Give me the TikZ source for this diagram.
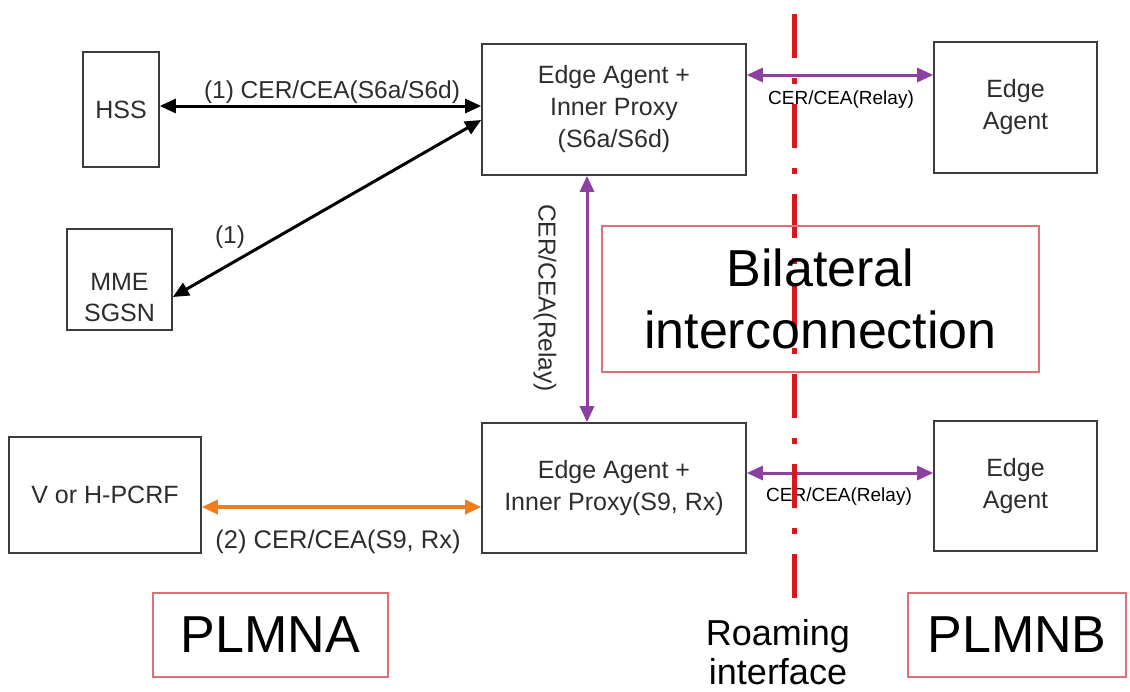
\documentclass[tikz,border=0pt]{standalone}
\usepackage{fontspec}
\setmainfont{Liberation Sans}
\usetikzlibrary{arrows.meta}
\definecolor{boxgray}{RGB}{60,60,60}
\definecolor{txtgray}{RGB}{45,45,45}
\definecolor{pinkred}{RGB}{222,112,118}
\definecolor{relaypurple}{RGB}{140,65,160}
\definecolor{pcrforange}{RGB}{240,125,30}
\definecolor{roamred}{RGB}{215,25,30}
\begin{document}
\begin{tikzpicture}[x=1pt,y=-1pt,
  >={Triangle[length=16pt,width=14pt]},
  box/.style={draw=boxgray, line width=1.6pt, inner sep=0pt, align=center,
              text=txtgray, font=\fontsize{25}{32}\selectfont},
  netbox/.style={draw=pinkred, line width=1.5pt, inner sep=0pt, align=center,
              text=black, font=\fontsize{52}{62}\selectfont},
  blacklink/.style={<->, draw=black, line width=3pt},
  relaylink/.style={<->, draw=relaypurple, line width=3pt},
  pcrflink/.style={<->, draw=pcrforange, line width=3.5pt},
  msg/.style={text=txtgray, font=\fontsize{24.5}{28}\selectfont, inner sep=0pt},
  relaymsg/.style={text=black, font=\fontsize{19}{22}\selectfont, inner sep=0pt},
  roamline/.style={draw=roamred, line width=5pt,
              dash pattern=on 44pt off 20pt on 6pt off 20pt}]
\useasboundingbox[fill=white] (0,0) rectangle (1130,691);

% network elements
\node[box, minimum width=76pt, minimum height=115pt] (hss) at (121,109.5) {HSS};
\node[box, minimum width=105pt, minimum height=101pt,
      label={[align=center, text=txtgray, font=\fontsize{25}{31}\selectfont,
              yshift=-18pt]center:MME\\SGSN}] (mme) at (119.5,279.5) {};
\node[box, minimum width=264pt, minimum height=131pt] (eaS6) at (614,109.5)
     {Edge Agent +\\Inner Proxy\\(S6a/S6d)};
\node[box, minimum width=163pt, minimum height=131pt] (ebS6) at (1015.5,107.5)
     {Edge\\Agent};
\node[box, minimum width=264pt, minimum height=130pt] (eaS9) at (614,488)
     {Edge Agent +\\Inner Proxy(S9, Rx)};
\node[box, minimum width=163pt, minimum height=130pt] (ebS9) at (1015.5,486)
     {Edge\\Agent};
\node[box, minimum width=192pt, minimum height=116pt] (pcrf) at (105,495)
     {V or H-PCRF};

% network labels
\node[netbox, minimum width=235pt, minimum height=84pt] (plmna) at (270.5,635) {PLMNA};
\node[netbox, minimum width=218pt, minimum height=84pt] (plmnb) at (1017,635) {PLMNB};

% Diameter connections
\draw[blacklink] ([yshift=3.5pt]hss.east) -- ([yshift=3.5pt]eaS6.west);
\draw[blacklink] ([yshift=-17.5pt]mme.east) -- ([yshift=-10.5pt]eaS6.west);
\draw[relaylink] ([yshift=34.5pt]eaS6.east) -- ([yshift=32.5pt]ebS6.west);
\draw[relaylink] ([yshift=15pt]eaS9.east) -- ([yshift=13pt]ebS9.west);
\draw[relaylink] ([xshift=-27pt]eaS6.south) -- ([xshift=-27pt]eaS9.north);
\draw[pcrflink] ([yshift=-12pt]pcrf.east) -- ([yshift=-19pt]eaS9.west);

% connection labels
\node[msg] (l1) at (332,92) {(1) CER/CEA(S6a/S6d)};
\node[msg] (l1b) at (230,237) {(1)};
\node[msg, font=\fontsize{25.5}{28}\selectfont] (l2) at (338,542) {(2) CER/CEA(S9, Rx)};
\node[msg, rotate=-90] (lv) at (545,298) {CER/CEA(Relay)};
\node[relaymsg] (lr1) at (841,100) {CER/CEA(Relay)};
\node[relaymsg] (lr2) at (839,497) {CER/CEA(Relay)};

% roaming interface
\coordinate (rtop) at (794,14);
\coordinate (rbot) at (794,600);
\draw[roamline] (rtop) -- (rbot);
\node[align=center, font=\fontsize{36}{39}\selectfont, inner sep=0pt] (roam) at (778,652)
     {Roaming\\interface};

\node[netbox, minimum width=437pt, minimum height=146pt] (bil) at (820.5,299)
     {Bilateral\\interconnection};
\end{tikzpicture}
\end{document}
